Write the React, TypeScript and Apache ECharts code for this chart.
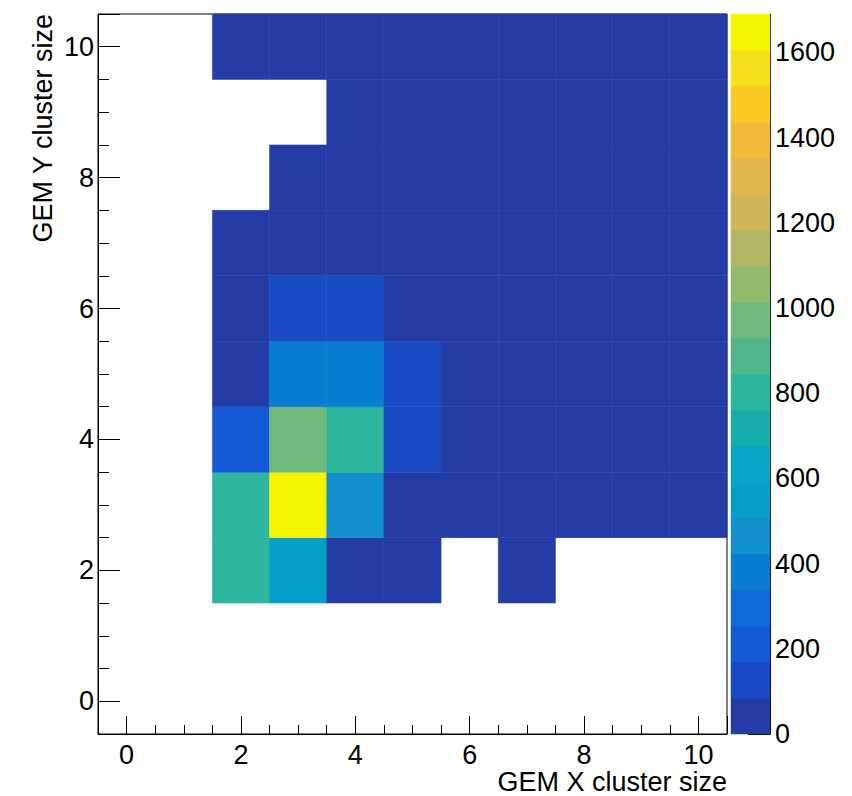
import React, { useEffect, useRef } from "react";
import * as echarts from "echarts";

// Bin centres of the 2D histogram (unit-width bins from -0.5 to 10.5)
const xBins = [0, 1, 2, 3, 4, 5, 6, 7, 8, 9, 10];

// Entries per bin, one array per Y cluster size, indexed by X cluster size
const countsY2 = [0, 0, 805, 560, 45, 18, 0, 4, 0, 0, 0];
const countsY3 = [0, 0, 815, 1690, 470, 72, 38, 21, 12, 7, 4];
const countsY4 = [0, 0, 210, 975, 800, 140, 60, 30, 16, 9, 5];
const countsY5 = [0, 0, 55, 380, 395, 125, 48, 25, 13, 8, 4];
const countsY6 = [0, 0, 25, 105, 100, 58, 30, 17, 10, 6, 3];
const countsY7 = [0, 0, 8, 40, 45, 30, 18, 11, 7, 4, 2];
const countsY8 = [0, 0, 0, 15, 20, 15, 10, 6, 4, 3, 2];
const countsY9 = [0, 0, 0, 0, 8, 7, 5, 4, 3, 2, 1];
const countsY10 = [0, 0, 3, 10, 12, 10, 8, 6, 5, 4, 3];

const rows: { y: number; counts: number[] }[] = [
  { y: 2, counts: countsY2 },
  { y: 3, counts: countsY3 },
  { y: 4, counts: countsY4 },
  { y: 5, counts: countsY5 },
  { y: 6, counts: countsY6 },
  { y: 7, counts: countsY7 },
  { y: 8, counts: countsY8 },
  { y: 9, counts: countsY9 },
  { y: 10, counts: countsY10 },
];

// Palette axis tick values
const paletteTicks = [0, 200, 400, 600, 800, 1000, 1200, 1400, 1600];

// Colour of each of the 20 contour levels (bird palette), lowest first
const levelColors = [
  "#233ca6", "#1a4bc4", "#1459d6", "#0f6bd6", "#087cd1",
  "#128fcd", "#069fc9", "#06a7c4", "#17adab", "#2bb69d",
  "#50b78c", "#72ba7c", "#94ba6e", "#b3b663", "#d0b65a",
  "#e1b64d", "#f2b93a", "#fbca22", "#f5e11b", "#f5f500",
];
const N_CONTOURS = levelColors.length;

const FONT = '"Liberation Sans", Arial, Helvetica, sans-serif';

export default function App() {
  const ref = useRef<HTMLDivElement>(null);

  useEffect(() => {
    if (!ref.current) return;
    const chart = echarts.init(ref.current, undefined, { renderer: "svg" });

    const cells: number[][] = [];
    rows.forEach((row) => {
      row.counts.forEach((v, i) => {
        if (v > 0) cells.push([xBins[i], row.y, v]);
      });
    });
    const zMax = Math.max(...cells.map((c) => c[2]));
    const levelOf = (v: number) =>
      Math.max(0, Math.min(N_CONTOURS - 1, Math.floor((v / zMax) * N_CONTOURS)));

    const paletteData: number[][] = [];
    for (let k = 0; k < N_CONTOURS; k++) {
      paletteData.push([0.5, (k * zMax) / N_CONTOURS, ((k + 1) * zMax) / N_CONTOURS, k]);
    }

    const axisText = { fontSize: 27, fontFamily: FONT, color: "#000" };
    const black = { color: "#000", width: 1 };
    const plain = (v: number) => String(v);

    chart.setOption({
      animation: false,
      backgroundColor: "#fff",
      grid: [
        {
          left: 98,
          top: 14,
          width: 629,
          height: 720,
          show: true,
          borderColor: "#000",
          borderWidth: 1,
          backgroundColor: "transparent",
        },
        { left: 731, top: 14, width: 39, height: 720 },
      ],
      xAxis: [
        {
          gridIndex: 0,
          type: "value",
          min: -0.5,
          max: 10.5,
          splitNumber: 5,
          axisLine: { show: true, onZero: false, lineStyle: black },
          axisTick: { show: true, inside: true, length: 18, lineStyle: black },
          minorTick: { show: true, splitNumber: 4, length: 9, lineStyle: black },
          splitLine: { show: false },
          axisLabel: { ...axisText, margin: 7, showMinLabel: false, showMaxLabel: false, formatter: plain },
        },
        { gridIndex: 1, type: "value", min: 0, max: 1, show: false },
      ],
      yAxis: [
        {
          gridIndex: 0,
          type: "value",
          min: -0.5,
          max: 10.5,
          splitNumber: 5,
          axisLine: { show: true, onZero: false, lineStyle: black },
          axisTick: { show: true, inside: true, length: 22, lineStyle: black },
          minorTick: { show: true, splitNumber: 4, length: 11, lineStyle: black },
          splitLine: { show: false },
          axisLabel: { ...axisText, margin: 4, showMinLabel: false, showMaxLabel: false, formatter: plain },
        },
        {
          gridIndex: 1,
          type: "value",
          position: "right",
          min: 0,
          max: zMax,
          axisLine: { show: true, onZero: false, lineStyle: black },
          axisTick: { show: true, inside: true, length: 22, lineStyle: black, customValues: paletteTicks },
          splitLine: { show: false },
          axisLabel: { ...axisText, margin: 5, customValues: paletteTicks, formatter: plain },
        },
      ],
      series: [
        {
          type: "custom",
          xAxisIndex: 0,
          yAxisIndex: 0,
          data: cells,
          encode: { x: 0, y: 1 },
          renderItem: (_params: any, api: any) => {
            const x = api.value(0);
            const y = api.value(1);
            const v = api.value(2);
            const p0 = api.coord([x - 0.5, y + 0.5]);
            const p1 = api.coord([x + 0.5, y - 0.5]);
            const fill = levelColors[levelOf(v)];
            return {
              type: "rect",
              shape: { x: p0[0], y: p0[1], width: p1[0] - p0[0], height: p1[1] - p0[1] },
              style: { fill, stroke: fill, lineWidth: 0.5 },
            };
          },
          z: 2,
        },
        {
          type: "custom",
          xAxisIndex: 1,
          yAxisIndex: 1,
          data: paletteData,
          encode: { x: 0, y: [1, 2] },
          renderItem: (_params: any, api: any) => {
            const lo = api.value(1);
            const hi = api.value(2);
            const k = api.value(3);
            const p0 = api.coord([0, hi]);
            const p1 = api.coord([1, lo]);
            const fill = levelColors[k];
            return {
              type: "rect",
              shape: { x: p0[0], y: p0[1], width: p1[0] - p0[0], height: p1[1] - p0[1] },
              style: { fill, stroke: fill, lineWidth: 0.5 },
            };
          },
          z: 2,
        },
      ],
      graphic: [
        {
          type: "text",
          x: 727,
          y: 782,
          style: {
            text: "GEM X cluster size",
            font: `27px ${FONT}`,
            fill: "#000",
            align: "right",
            verticalAlign: "middle",
            textAlign: "right",
            textVerticalAlign: "middle",
          },
        },
        {
          type: "text",
          x: 43,
          y: 14,
          rotation: Math.PI / 2,
          style: {
            text: "GEM Y cluster size",
            font: `27px ${FONT}`,
            fill: "#000",
            align: "right",
            verticalAlign: "middle",
            textAlign: "right",
            textVerticalAlign: "middle",
          },
        },
      ],
    });

    return () => chart.dispose();
  }, []);

  return (
    <div
      ref={ref}
      style={{ position: "absolute", left: 0, top: 0, width: 852, height: 796 }}
    />
  );
}
